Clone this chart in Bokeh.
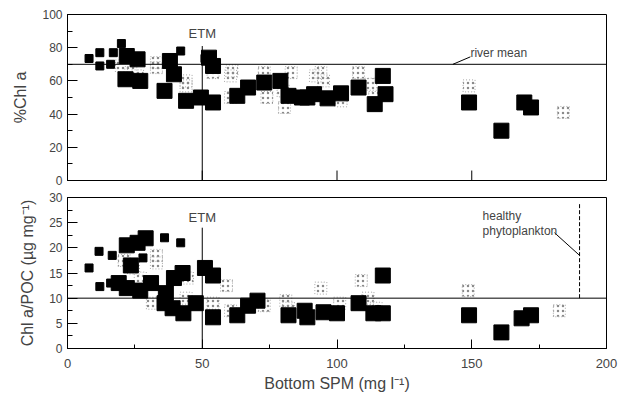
from bokeh.plotting import figure
from bokeh.layouts import column
from bokeh.models import Range1d, SingleIntervalTicker, Span, Label
from bokeh.embed import file_html
from bokeh.resources import INLINE

# ---- data ----
# top panel: %Chl a vs bottom SPM
top_black_small_x = [8, 12, 12, 17, 16, 20, 42, 51]
top_black_small_y = [73.5, 77, 69, 77, 70, 82.5, 78, 73.5]
top_black_x = [26, 27, 21.5, 22, 38, 36, 44, 39.5, 49.5, 54, 54, 52.5, 63, 67, 73, 79,
               82, 87, 89, 91.5, 96.5, 101.5, 108, 114, 117, 118, 149, 161, 169.5, 172]
top_black_y = [73, 60, 61, 75, 72, 54, 48, 64, 50, 47, 69, 74, 51, 56, 59, 60,
               51, 50, 50, 52, 49.5, 52.5, 56, 46, 63, 52, 47, 30, 47, 44]
top_gray_x = [23.5, 26, 20, 33, 33, 44, 44, 54, 60.5, 61, 60.5, 74, 73, 80, 80.5, 83,
              92, 94, 95, 101.5, 108, 112.5, 114, 149, 184]
top_gray_y = [65, 63, 69, 71, 68, 60, 57, 65, 63, 66, 50, 50, 65, 54, 44, 65,
              63, 65, 60, 48, 65, 58, 50, 57, 41]

# bottom panel: Chl a/POC vs bottom SPM
bot_black_small_x = [8, 11.7, 12, 16.6, 16, 36, 42, 28]
bot_black_small_y = [16, 19.3, 12.3, 18.5, 13, 22, 21, 18]
bot_black_x = [22, 26, 29, 23.5, 19, 22, 27, 31, 39.5, 42.7, 36.5, 36, 39, 43, 47.6, 51,
               54, 54, 63, 67, 70.5, 82, 88, 89, 95, 100, 108, 113.5, 117, 117, 149, 161,
               168.5, 172]
bot_black_y = [20.5, 21, 21.9, 16.5, 13, 12, 11.5, 13, 14, 15, 11, 9, 8, 7, 9, 16,
               14.5, 6.2, 6.6, 8.5, 9.5, 6.6, 7.5, 6.2, 7.2, 7, 9, 7, 7, 14.5, 6.6, 3.2,
               6, 6.6]
bot_gray_x = [21, 24.5, 27, 33, 33, 31.5, 44.5, 44, 54, 59, 60.5, 73, 81, 82, 94, 101,
              109, 111.5, 114.5, 148.7, 182.5]
bot_gray_y = [17.5, 16, 14, 18.5, 17, 9, 14, 10, 9, 12.5, 7.5, 8.5, 9.5, 8, 12, 9,
              13.5, 10, 8, 11.5, 7.5]

river_mean = 70
healthy_level = 10
etm_spm = 50
x_ticks = [0, 50, 100, 150, 200]

FONT = "Liberation Sans"


def style(p, ylab, y_interval):
    p.grid.visible = False
    p.outline_line_color = "black"
    p.outline_line_width = 1
    p.background_fill_color = "white"
    p.border_fill_color = "white"
    ya = p.yaxis[0]
    ya.ticker = SingleIntervalTicker(interval=y_interval, num_minor_ticks=2)
    ya.major_tick_in = 10
    ya.major_tick_out = 0
    ya.minor_tick_in = 5
    ya.minor_tick_out = 0
    ya.major_label_text_font = FONT
    ya.major_label_text_font_size = "12px"
    ya.major_label_standoff = 5
    ya.axis_label = ylab
    ya.axis_label_text_font = FONT
    ya.axis_label_text_font_style = "normal"
    ya.axis_label_text_font_size = "16px"
    ya.axis_label_standoff = 10
    xa = p.xaxis[0]
    xa.ticker = SingleIntervalTicker(interval=50, num_minor_ticks=2)
    xa.major_tick_in = 9
    xa.major_tick_out = 0
    xa.minor_tick_in = 4
    xa.minor_tick_out = 0


def points(p, bx, by, sx, sy, gx, gy):
    p.scatter(gx, gy, marker="square", size=12, fill_alpha=0,
              line_color="#a8a8a8", line_width=1, line_dash="1 2",
              hatch_pattern=".", hatch_color="#8a8a8a", hatch_scale=5, hatch_weight=1)
    p.scatter(bx, by, marker="square", size=15, fill_color="black", line_color="black")
    p.scatter(sx, sy, marker="square", size=8, fill_color="black", line_color="black")


# ---- top panel ----
p1 = figure(width=618, height=188, x_range=Range1d(0, 200), y_range=Range1d(0, 100),
            output_backend="svg", toolbar_location=None,
            min_border_left=67, min_border_right=12, min_border_top=14, min_border_bottom=8)
style(p1, "%Chl a", 20)
p1.xaxis.visible = False
# inward x tick marks on the top panel's lower edge (no labels)
p1.segment(x0=x_ticks, y0=[0] * len(x_ticks), x1=x_ticks, y1=[6] * len(x_ticks),
           line_color="black", line_width=1)
points(p1, top_black_x, top_black_y, top_black_small_x, top_black_small_y, top_gray_x, top_gray_y)
p1.add_layout(Span(location=river_mean, dimension="width", line_color="black", line_width=1))
p1.segment(x0=[etm_spm], y0=[0], x1=[etm_spm], y1=[81], line_color="black", line_width=1)
p1.add_layout(Label(x=etm_spm, y=84, text="ETM", text_align="center", text_baseline="bottom",
                    text_font=FONT, text_font_size="13px"))
p1.segment(x0=[143], y0=[70], x1=[149.5], y1=[74.5], line_color="black", line_width=1)
p1.add_layout(Label(x=149.5, y=77, text="river mean", text_align="left", text_baseline="middle",
                    text_font=FONT, text_font_size="12px"))

# ---- bottom panel ----
p2 = figure(width=618, height=214, x_range=p1.x_range, y_range=Range1d(0, 30),
            output_backend="svg", toolbar_location=None,
            min_border_left=67, min_border_right=12, min_border_top=9, min_border_bottom=54)
style(p2, "Chl a/POC (µg mg⁻¹)", 5)
xa = p2.xaxis[0]
xa.major_label_text_font = FONT
xa.major_label_text_font_size = "13px"
xa.major_label_standoff = 10
xa.axis_label = "Bottom SPM (mg l⁻¹)"
xa.axis_label_text_font = FONT
xa.axis_label_text_font_style = "normal"
xa.axis_label_text_font_size = "16px"
xa.axis_label_standoff = 4
points(p2, bot_black_x, bot_black_y, bot_black_small_x, bot_black_small_y, bot_gray_x, bot_gray_y)
p2.add_layout(Span(location=healthy_level, dimension="width", line_color="black", line_width=1))
p2.segment(x0=[etm_spm], y0=[0], x1=[etm_spm], y1=[24], line_color="black", line_width=1)
p2.add_layout(Label(x=etm_spm, y=24.6, text="ETM", text_align="center", text_baseline="bottom",
                    text_font=FONT, text_font_size="13px"))
p2.segment(x0=[190], y0=[healthy_level], x1=[190], y1=[29], line_color="black",
           line_width=1, line_dash="4 2")
p2.segment(x0=[180.7], y0=[23], x1=[190], y1=[18.5], line_color="black", line_width=1)
p2.add_layout(Label(x=154, y=26.3, text="healthy", text_align="left", text_baseline="middle",
                    text_font=FONT, text_font_size="12px"))
p2.add_layout(Label(x=154, y=23.3, text="phytoplankton", text_align="left", text_baseline="middle",
                    text_font=FONT, text_font_size="12px"))

layout = column(p1, p2, spacing=0)
open("out.html", "w").write(file_html(layout, INLINE))
